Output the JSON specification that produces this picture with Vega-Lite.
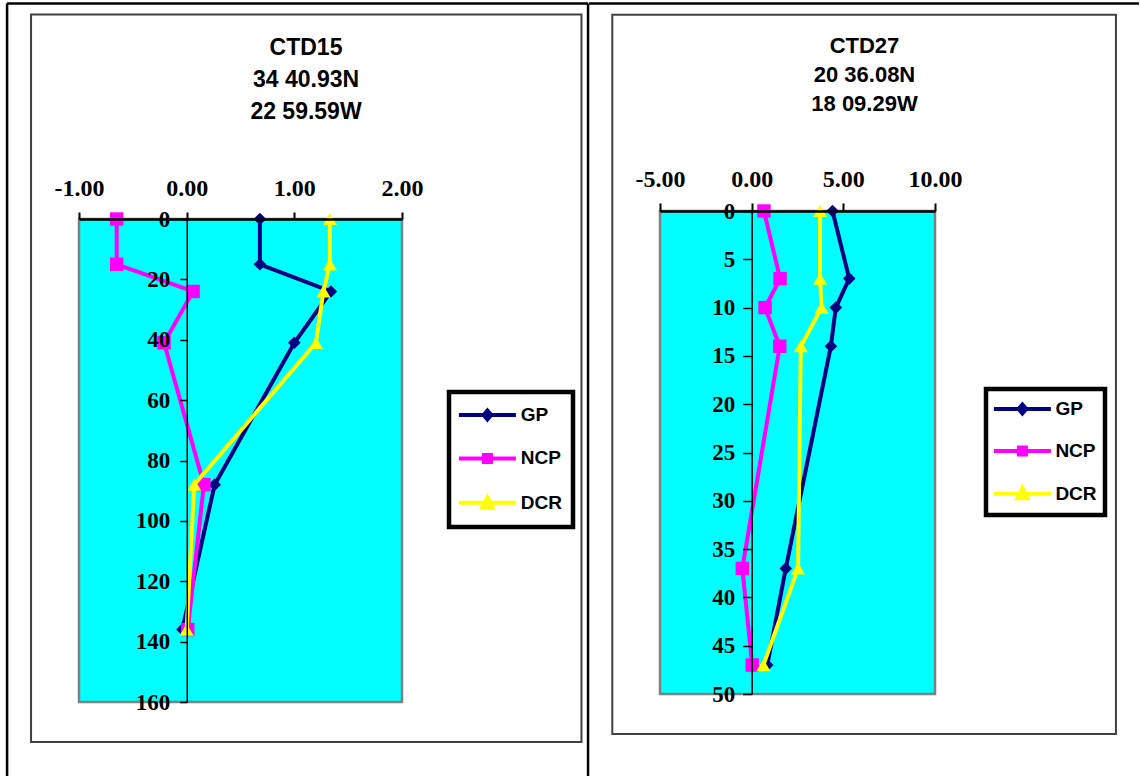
{
  "$schema": "https://vega.github.io/schema/vega-lite/v6.json",
  "padding": {"left": 5, "top": 2, "right": 0, "bottom": 0},
  "background": "white",
  "spacing": -3,
  "align": "none",
  "datasets": {
    "ctd15": [
      {"series": "GP", "depth": 0, "value": 0.68},
      {"series": "GP", "depth": 15, "value": 0.68},
      {"series": "GP", "depth": 24, "value": 1.34},
      {"series": "GP", "depth": 41, "value": 1.0},
      {"series": "GP", "depth": 88, "value": 0.26},
      {"series": "GP", "depth": 136, "value": -0.04},
      {"series": "NCP", "depth": 0, "value": -0.65},
      {"series": "NCP", "depth": 15, "value": -0.65},
      {"series": "NCP", "depth": 24, "value": 0.06},
      {"series": "NCP", "depth": 41, "value": -0.21},
      {"series": "NCP", "depth": 88, "value": 0.16},
      {"series": "NCP", "depth": 136, "value": 0.01},
      {"series": "DCR", "depth": 0, "value": 1.33},
      {"series": "DCR", "depth": 15, "value": 1.33},
      {"series": "DCR", "depth": 24, "value": 1.27},
      {"series": "DCR", "depth": 41, "value": 1.2},
      {"series": "DCR", "depth": 88, "value": 0.07},
      {"series": "DCR", "depth": 136, "value": 0.0}
    ],
    "ctd27": [
      {"series": "GP", "depth": 0, "value": 4.41},
      {"series": "GP", "depth": 7, "value": 5.32},
      {"series": "GP", "depth": 10, "value": 4.59},
      {"series": "GP", "depth": 14, "value": 4.32},
      {"series": "GP", "depth": 37, "value": 1.86},
      {"series": "GP", "depth": 47, "value": 0.85},
      {"series": "NCP", "depth": 0, "value": 0.67},
      {"series": "NCP", "depth": 7, "value": 1.55},
      {"series": "NCP", "depth": 10, "value": 0.73},
      {"series": "NCP", "depth": 14, "value": 1.53},
      {"series": "NCP", "depth": 37, "value": -0.51},
      {"series": "NCP", "depth": 47, "value": 0.03},
      {"series": "DCR", "depth": 0, "value": 3.73},
      {"series": "DCR", "depth": 7, "value": 3.73},
      {"series": "DCR", "depth": 10, "value": 3.81},
      {"series": "DCR", "depth": 14, "value": 2.68},
      {"series": "DCR", "depth": 37, "value": 2.53},
      {"series": "DCR", "depth": 47, "value": 0.64}
    ]
  },
  "config": {
    "view": {"fill": null, "stroke": null},
    "axis": {
      "labelFont": "Liberation Serif", "labelFontWeight": "bold", "labelFontSize": 23,
      "labelColor": "black", "domainColor": "black", "tickColor": "black",
      "grid": false, "labelOverlap": false, "labelFlush": false
    },
    "legend": {
      "title": null, "strokeColor": "black", "fillColor": "white", "strokeWidth": 4.5,
      "labelFont": "Liberation Sans", "labelFontSize": 19, "labelFontWeight": "bold", "labelColor": "black",
      "symbolSize": 400, "symbolStrokeWidth": 4, "symbolOpacity": 1
    }
  },
  "resolve": {
    "scale": {"x": "independent", "y": "independent", "color": "independent", "shape": "independent"},
    "legend": {"color": "independent", "shape": "independent"}
  },
  "hconcat": [
    {
      "width": 323,
      "height": 491,
      "title": {
        "text": ["CTD15", "34 40.93N", "22 59.59W"],
        "font": "Liberation Sans", "fontSize": 23, "fontWeight": "bold", "lineHeight": 32,
        "color": "black", "anchor": "middle", "frame": "group", "dx": 65.5, "offset": -122
      },
      "layer": [
        {
          "data": {"values": [{}]},
          "mark": {"type": "rect", "fill": "#00ffff", "stroke": "#808080", "strokeWidth": 2.5},
          "encoding": {
            "x": {"datum": -1, "type": "quantitative", "title": null},
            "x2": {"datum": 2},
            "y": {"datum": 0, "type": "quantitative", "title": null},
            "y2": {"datum": 160}
          }
        },
        {
          "data": {"name": "ctd15"},
          "transform": [{"filter": "datum.series === 'GP'"}],
          "mark": {"type": "line", "color": "#000080", "strokeWidth": 4,
            "point": {"shape": "diamond", "filled": true, "size": 160, "color": "#000080", "opacity": 1}},
          "encoding": {
            "x": {"field": "value", "type": "quantitative", "title": null,
              "scale": {"domain": [-1, 2], "nice": false, "zero": false},
              "axis": {"orient": "top", "offset": -8, "zindex": 1, "values": [-1, 0, 1, 2], "format": ".2f",
                "labelExpr": "replace(datum.label, '\u2212', '-')", "labelFontSize": 24,
                "tickSize": 7, "tickWidth": 2, "domainWidth": 2.5, "labelPadding": 12, "title": null}},
            "y": {"field": "depth", "type": "quantitative", "title": null,
              "scale": {"domain": [0, 160], "range": [8, 491], "nice": false, "zero": false},
              "axis": {"orient": "left", "offset": -107.77, "zindex": 1, "values": [0, 20, 40, 60, 80, 100, 120, 140, 160],
                "format": "d", "tickSize": 7, "tickWidth": 1.5, "domainWidth": 1.5, "labelPadding": 10, "title": null}},
            "order": {"field": "depth", "type": "quantitative"}
          }
        },
        {
          "data": {"name": "ctd15"},
          "transform": [{"filter": "datum.series === 'NCP'"}],
          "mark": {"type": "line", "color": "#ff00ff", "strokeWidth": 4,
            "point": {"shape": "square", "filled": true, "size": 180, "color": "#ff00ff", "opacity": 1}},
          "encoding": {
            "x": {"field": "value", "type": "quantitative", "title": null},
            "y": {"field": "depth", "type": "quantitative", "title": null},
            "order": {"field": "depth", "type": "quantitative"}
          }
        },
        {
          "data": {"name": "ctd15"},
          "transform": [{"filter": "datum.series === 'DCR'"}],
          "mark": {"type": "line", "color": "#ffff00", "strokeWidth": 4,
            "point": {"shape": "triangle-up", "filled": true, "size": 200, "color": "#ffff00", "opacity": 1}},
          "encoding": {
            "x": {"field": "value", "type": "quantitative", "title": null},
            "y": {"field": "depth", "type": "quantitative", "title": null},
            "order": {"field": "depth", "type": "quantitative"}
          }
        },
        {
          "data": {"name": "ctd15"},
          "mark": {"type": "point", "filled": false, "strokeWidth": 4, "opacity": 1, "size": 400},
          "encoding": {
            "x": {"field": "legend_only", "type": "quantitative", "title": null},
            "y": {"field": "depth", "type": "quantitative", "title": null},
            "color": {"field": "series", "type": "nominal",
              "scale": {"domain": ["GP", "NCP", "DCR"], "range": ["#000080", "#ff00ff", "#ffff00"]},
              "legend": {"orient": "none", "legendX": 370, "legendY": 181, "title": null,
                "padding": 11, "rowPadding": 18.4, "symbolOffset": 15.4, "labelOffset": 21.3}},
            "shape": {"field": "series", "type": "nominal",
              "scale": {"domain": ["GP", "NCP", "DCR"], "range": [
                "M-2.85,0H2.85M0,-0.45L0.38,0L0,0.45L-0.38,0Z",
                "M-2.85,0H2.85M-0.35,-0.35H0.35V0.35H-0.35Z",
                "M-2.85,0H2.85M0,-0.55L0.5,0.45L-0.5,0.45Z"]},
              "legend": {"orient": "none", "legendX": 370, "legendY": 181, "title": null,
                "padding": 11, "rowPadding": 18.4, "symbolOffset": 15.4, "labelOffset": 21.3}}
          }
        },
        {
          "data": {"values": [{}]},
          "mark": {"type": "rect", "fill": "transparent", "stroke": "#404040", "strokeWidth": 2},
          "encoding": {
            "x": {"datum": -1.4454, "type": "quantitative", "title": null},
            "x2": {"datum": 3.667},
            "y": {"datum": -67.74, "type": "quantitative", "title": null},
            "y2": {"datum": 173.24}
          }
        },
        {
          "data": {"values": [{}]},
          "mark": {"type": "rule", "stroke": "black", "strokeWidth": 2.5},
          "encoding": {
            "x": {"datum": -1.668, "type": "quantitative", "title": null},
            "x2": {"datum": 3.728},
            "y": {"datum": -71.38, "type": "quantitative", "title": null}
          }
        },
        {
          "data": {"values": [{}]},
          "mark": {"type": "rule", "stroke": "black", "strokeWidth": 2.5},
          "encoding": {
            "x": {"datum": -1.668, "type": "quantitative", "title": null},
            "y": {"datum": -71.38, "type": "quantitative", "title": null},
            "y2": {"datum": 184.5}
          }
        },
        {
          "data": {"values": [{}]},
          "mark": {"type": "rule", "stroke": "black", "strokeWidth": 2.5},
          "encoding": {
            "x": {"datum": 3.728, "type": "quantitative", "title": null},
            "y": {"datum": -71.38, "type": "quantitative", "title": null},
            "y2": {"datum": 184.5}
          }
        }
      ]
    },
    {
      "width": 275,
      "height": 483,
      "title": {
        "text": ["CTD27", "20 36.08N", "18 09.29W"],
        "font": "Liberation Sans", "fontSize": 22, "fontWeight": "bold", "lineHeight": 29,
        "color": "black", "anchor": "middle", "frame": "group", "dx": 67, "offset": -114
      },
      "layer": [
        {
          "data": {"values": [{}]},
          "mark": {"type": "rect", "fill": "#00ffff", "stroke": "#808080", "strokeWidth": 2.5},
          "encoding": {
            "x": {"datum": -5, "type": "quantitative", "title": null},
            "x2": {"datum": 10},
            "y": {"datum": 0, "type": "quantitative", "title": null},
            "y2": {"datum": 50}
          }
        },
        {
          "data": {"name": "ctd27"},
          "transform": [{"filter": "datum.series === 'GP'"}],
          "mark": {"type": "line", "color": "#000080", "strokeWidth": 4,
            "point": {"shape": "diamond", "filled": true, "size": 160, "color": "#000080", "opacity": 1}},
          "encoding": {
            "x": {"field": "value", "type": "quantitative", "title": null,
              "scale": {"domain": [-5, 10], "nice": false, "zero": false},
              "axis": {"orient": "top", "zindex": 1, "values": [-5, 0, 5, 10], "format": ".2f",
                "labelExpr": "replace(datum.label, '\u2212', '-')", "labelFontSize": 24,
                "tickSize": 8, "tickWidth": 2, "domainWidth": 2.5, "labelPadding": 12, "title": null}},
            "y": {"field": "depth", "type": "quantitative", "title": null,
              "scale": {"domain": [0, 50], "reverse": true, "nice": false, "zero": false},
              "axis": {"orient": "left", "offset": -91.67, "zindex": 1, "values": [0, 5, 10, 15, 20, 25, 30, 35, 40, 45, 50],
                "format": "d", "tickSize": 9, "tickWidth": 1.5, "domainWidth": 1.5, "labelPadding": 8, "title": null}},
            "order": {"field": "depth", "type": "quantitative"}
          }
        },
        {
          "data": {"name": "ctd27"},
          "transform": [{"filter": "datum.series === 'NCP'"}],
          "mark": {"type": "line", "color": "#ff00ff", "strokeWidth": 4,
            "point": {"shape": "square", "filled": true, "size": 180, "color": "#ff00ff", "opacity": 1}},
          "encoding": {
            "x": {"field": "value", "type": "quantitative", "title": null},
            "y": {"field": "depth", "type": "quantitative", "title": null},
            "order": {"field": "depth", "type": "quantitative"}
          }
        },
        {
          "data": {"name": "ctd27"},
          "transform": [{"filter": "datum.series === 'DCR'"}],
          "mark": {"type": "line", "color": "#ffff00", "strokeWidth": 4,
            "point": {"shape": "triangle-up", "filled": true, "size": 200, "color": "#ffff00", "opacity": 1}},
          "encoding": {
            "x": {"field": "value", "type": "quantitative", "title": null},
            "y": {"field": "depth", "type": "quantitative", "title": null},
            "order": {"field": "depth", "type": "quantitative"}
          }
        },
        {
          "data": {"name": "ctd27"},
          "mark": {"type": "point", "filled": false, "strokeWidth": 4, "opacity": 1, "size": 400},
          "encoding": {
            "x": {"field": "legend_only", "type": "quantitative", "title": null},
            "y": {"field": "depth", "type": "quantitative", "title": null},
            "color": {"field": "series", "type": "nominal",
              "scale": {"domain": ["GP", "NCP", "DCR"], "range": ["#000080", "#ff00ff", "#ffff00"]},
              "legend": {"orient": "none", "legendX": 326, "legendY": 178, "title": null,
                "padding": 8, "rowPadding": 16.9, "symbolOffset": 16.4, "labelOffset": 21}},
            "shape": {"field": "series", "type": "nominal",
              "scale": {"domain": ["GP", "NCP", "DCR"], "range": [
                "M-2.85,0H2.85M0,-0.45L0.38,0L0,0.45L-0.38,0Z",
                "M-2.85,0H2.85M-0.35,-0.35H0.35V0.35H-0.35Z",
                "M-2.85,0H2.85M0,-0.55L0.5,0.45L-0.5,0.45Z"]},
              "legend": {"orient": "none", "legendX": 326, "legendY": 178, "title": null,
                "padding": 8, "rowPadding": 16.9, "symbolOffset": 16.4, "labelOffset": 21}}
          }
        },
        {
          "data": {"values": [{}]},
          "mark": {"type": "rect", "fill": "transparent", "stroke": "#404040", "strokeWidth": 2},
          "encoding": {
            "x": {"datum": -7.602, "type": "quantitative", "title": null},
            "x2": {"datum": 19.87},
            "y": {"datum": -20.32, "type": "quantitative", "title": null},
            "y2": {"datum": 54.14}
          }
        },
        {
          "data": {"values": [{}]},
          "mark": {"type": "rule", "stroke": "black", "strokeWidth": 2.5},
          "encoding": {
            "x": {"datum": -8.873, "type": "quantitative", "title": null},
            "x2": {"datum": 21.13},
            "y": {"datum": -21.48, "type": "quantitative", "title": null}
          }
        }
      ]
    }
  ]
}
